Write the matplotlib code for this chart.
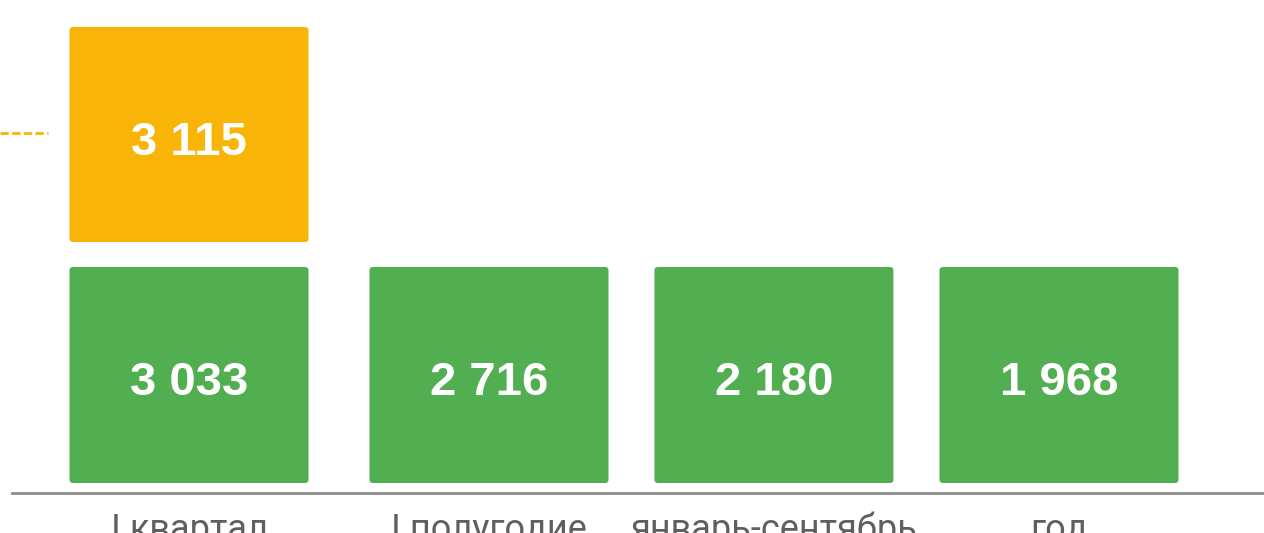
import matplotlib.pyplot as plt
from matplotlib.patches import FancyBboxPatch

categories = ['I квартал', 'I полугодие', 'январь-сентябрь', 'год']
green_values = [3033, 2716, 2180, 1968]
orange_values = [3115]

GREEN = '#51AE51'
ORANGE = '#F8B508'


def fmt(v):
    return f'{v:,}'.replace(',', ' ')


fig = plt.figure(figsize=(12.64, 5.33), dpi=100)
ax = fig.add_axes([0, 0, 1, 1])
# x in category units, y in pixels from bottom
ax.set_xlim(-189 / 290, (1264 - 189) / 290)
ax.set_ylim(0, 533)
ax.axis('off')

w = 239 / 290
centers = [0, 1.0345, 2.017, 3.0]  # tiles are not quite evenly spaced


def tile(x, y0, y1, color, text, base):
    ax.add_patch(FancyBboxPatch((x - w / 2, y0), w, y1 - y0,
                                boxstyle='round,pad=0,rounding_size=0.012',
                                mutation_aspect=290,
                                facecolor=color, edgecolor='none'))
    ax.text(x, base, text, ha='center', va='baseline', color='white',
            fontsize=34, fontweight='bold', family='Liberation Sans')


for x, v in zip(centers, green_values):
    tile(x, 50, 266, GREEN, fmt(v), 138)

for x, v in zip(centers, orange_values):
    tile(x, 291, 506, ORANGE, fmt(v), 378)

# dashed reference line at left
ax.plot([-189 / 290, (48 - 189) / 290], [400, 400], color=ORANGE,
        lw=2, dashes=(3, 1.2))

# baseline
ax.plot([(12 - 189) / 290, (1264 - 189) / 290], [40, 40], color='#8C8C8C', lw=2)

for x, c in zip(centers, categories):
    ax.text(x, 21, c, ha='center', va='top', fontsize=26,
            color='#5F5F5F', family='Roboto')

fig.savefig('out.png', dpi=100)
